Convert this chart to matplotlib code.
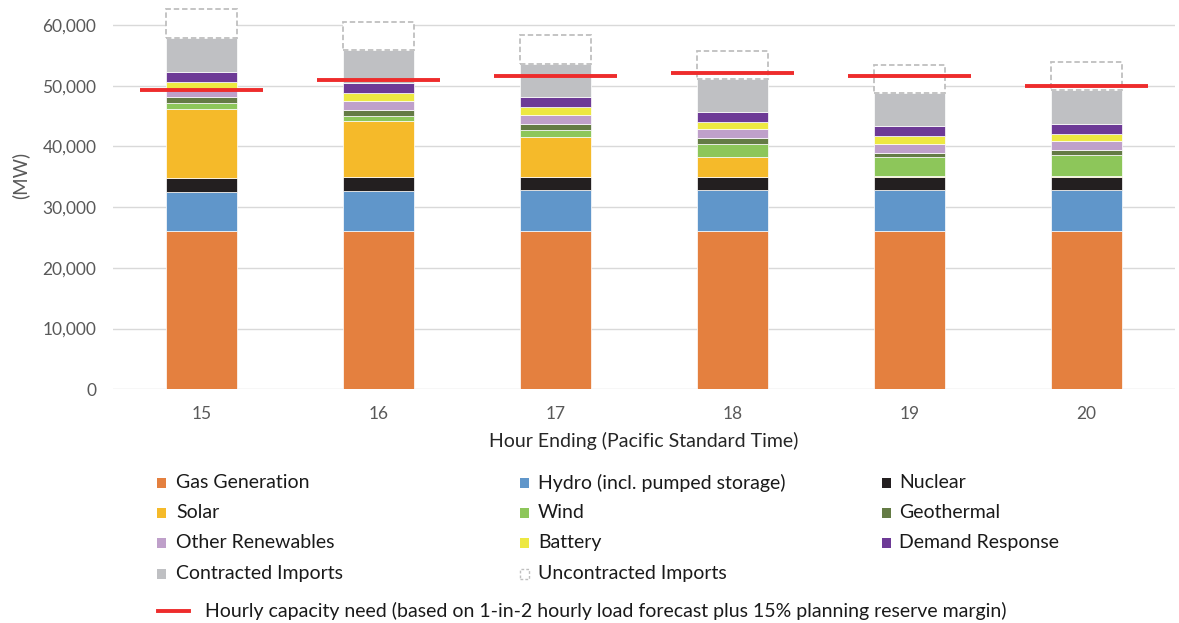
import matplotlib
matplotlib.use("Agg")
import matplotlib.pyplot as plt
from matplotlib.patches import Rectangle
from matplotlib.lines import Line2D
import numpy as np

plt.rcParams['font.family'] = ['Lato', 'DejaVu Sans']

hours = ['15', '16', '17', '18', '19', '20']

gas = [26100, 26100, 26100, 26100, 26100, 26100]
hydro = [6450, 6610, 6670, 6670, 6670, 6670]
nuclear = [2300, 2300, 2240, 2240, 2240, 2240]
solar = [11350, 9230, 6490, 3250, 80, 50]
wind = [1000, 770, 1200, 2190, 3120, 3530]
geothermal = [990, 990, 990, 990, 760, 820]
other_renewables = [1180, 1530, 1490, 1480, 1480, 1430]
battery = [1290, 1220, 1310, 1100, 1320, 1260]
demand_response = [1600, 1690, 1650, 1650, 1590, 1640]
contracted_imports = [5650, 5440, 5490, 5430, 5440, 5550]
uncontracted_imports = [4720, 4610, 4670, 4670, 4660, 4660]
capacity_need = [49300, 50950, 51600, 52050, 51600, 49950]

series = [
    ('Gas Generation', gas, '#E4803F'),
    ('Hydro (incl. pumped storage)', hydro, '#6096CA'),
    ('Nuclear', nuclear, '#231F20'),
    ('Solar', solar, '#F5BA2A'),
    ('Wind', wind, '#8DC65A'),
    ('Geothermal', geothermal, '#647B45'),
    ('Other Renewables', other_renewables, '#BFA0CA'),
    ('Battery', battery, '#EDE842'),
    ('Demand Response', demand_response, '#6D3A96'),
    ('Contracted Imports', contracted_imports, '#BFC0C3'),
]

W, H = 1179, 623
fig = plt.figure(figsize=(W / 100, H / 100), dpi=100)
ax_left, ax_right, ax_top, ax_bottom = 113, 1175, 0, 389.3
ax = fig.add_axes([ax_left / W, 1 - ax_bottom / H, (ax_right - ax_left) / W, (ax_bottom - ax_top) / H])

x = np.arange(len(hours))
bw = 0.40
bottom = np.zeros(len(hours))
for name, vals, col in series:
    vals = np.array(vals, dtype=float)
    ax.bar(x, vals, bw, bottom=bottom, color=col, edgecolor='white', linewidth=0.5, zorder=2)
    bottom += vals

# uncontracted imports: dashed outline only
ax.bar(x, uncontracted_imports, bw * 0.995, bottom=bottom, facecolor='white', edgecolor='#BFBFBF',
       linewidth=1.3, linestyle=(0, (3, 1.6)), zorder=2, clip_on=False)

# hourly capacity need
half = 0.345
for xi, v in zip(x, capacity_need):
    ax.plot([xi - half, xi + half], [v, v], color='#EE2C2C', lw=2.8, solid_capstyle='butt', zorder=4)

ax.set_xlim(-0.5, len(hours) - 0.5)
ax.set_ylim(0, 64115)
ax.set_yticks(np.arange(0, 60001, 10000))
ax.yaxis.set_major_formatter(matplotlib.ticker.FuncFormatter(lambda v, p: f'{int(v):,}'))
ax.set_xticks(x)
ax.set_xticklabels(hours)
ax.grid(axis='y', color='#D9D9D9', lw=1.0, zorder=0)
ax.set_axisbelow(True)
for s in ax.spines.values():
    s.set_visible(False)
ax.tick_params(axis='both', length=0, labelsize=12.5, labelcolor='#595959')
ax.tick_params(axis='y', pad=12)
ax.tick_params(axis='x', pad=12)

fig.text(20 / W, 1 - 175 / H, '(MW)', rotation=90, ha='center', va='center', fontsize=13.5, color='#595959')
fig.text((ax_left + ax_right) / 2 / W, 1 - 441 / H, 'Hour Ending (Pacific Standard Time)',
         ha='center', va='center', fontsize=14, color='#262626')

# legend
cols = [(157, 176), (520, 538), (882, 899)]
rows = [482.5, 512.5, 542.7, 573.5]
entries = [s[0] for s in series] + ['Uncontracted Imports']
colors = [s[2] for s in series] + [None]
for i, (name, col) in enumerate(zip(entries, colors)):
    r, c = divmod(i, 3)
    mx, tx = cols[c]
    yc = rows[r]
    if col is None:
        p = Rectangle((mx / W, 1 - (yc + 5) / H), 9 / W, 10 / H, transform=fig.transFigure,
                      facecolor='white', edgecolor='#BFBFBF', lw=1.0, linestyle=(0, (2, 1.5)))
    else:
        p = Rectangle((mx / W, 1 - (yc + 5) / H), 9 / W, 10 / H, transform=fig.transFigure,
                      facecolor=col, edgecolor='none')
    fig.add_artist(p)
    fig.text(tx / W, 1 - yc / H, name, ha='left', va='center', fontsize=14, color='#1A1A1A')

fig.add_artist(Line2D([158 / W, 189 / W], [1 - 611 / H, 1 - 611 / H], color='#EE2C2C', lw=2.8,
                      transform=fig.transFigure))
fig.text(205 / W, 1 - 611 / H,
         'Hourly capacity need (based on 1-in-2 hourly load forecast plus 15% planning reserve margin)',
         ha='left', va='center', fontsize=14, color='#1A1A1A')

fig.savefig('out.png', dpi=100)
